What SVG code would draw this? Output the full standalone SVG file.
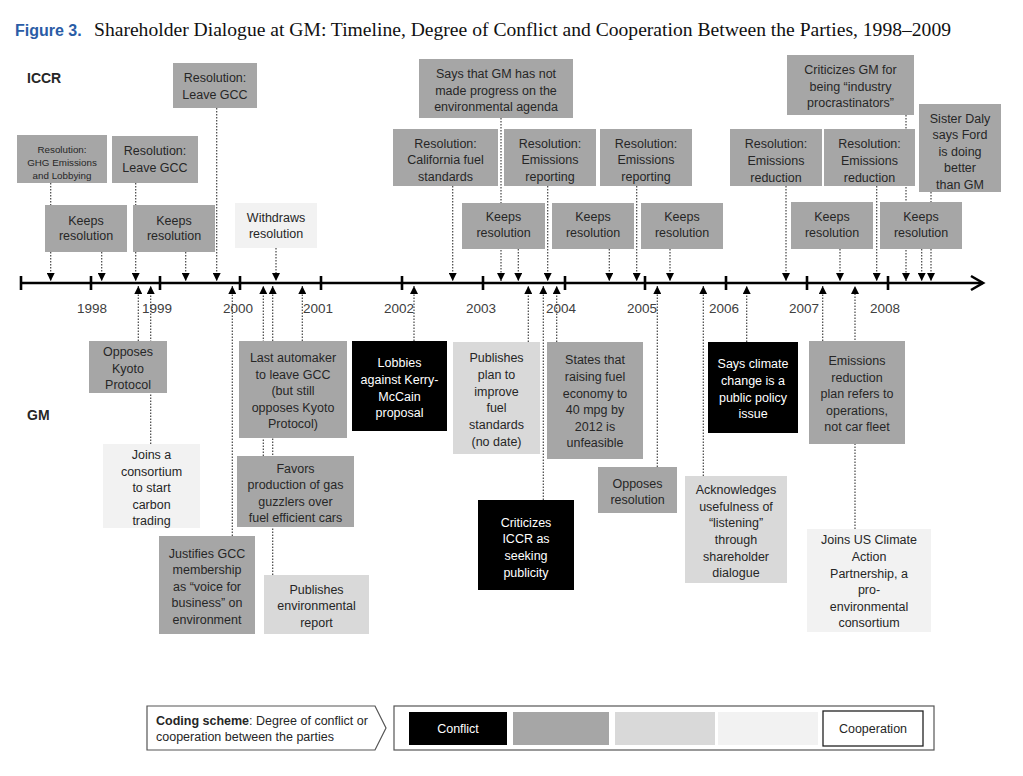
<svg xmlns="http://www.w3.org/2000/svg" width="1023" height="776" viewBox="0 0 1023 776">
<style>
text{font-family:"Liberation Sans",Arial,sans-serif}
text.serif{font-family:"Liberation Serif","Times New Roman",serif}
.t{font-size:12.5px;fill:#262626;text-anchor:middle}
.s{font-size:9.8px;fill:#262626;text-anchor:middle}
.w{font-size:12.5px;fill:#ffffff;text-anchor:middle}
.m{fill:#a6a6a6}
.l{fill:#d9d9d9}
.v{fill:#f2f2f2}
.k{fill:#000000}
.yr{font-size:13.5px;fill:#404040;text-anchor:middle}
.lab{font-size:14px;font-weight:bold;fill:#262626}
.c line{stroke:#444;stroke-width:1.2;stroke-dasharray:1.6 1.4;marker-end:url(#ah)}
</style>
<defs>
<marker id="ah" markerUnits="userSpaceOnUse" markerWidth="8" markerHeight="8" viewBox="0 0 10 10" refX="10" refY="5" orient="auto">
<path d="M0,0 L10,5 L0,10 z" fill="#000" stroke="none"/>
</marker>
</defs>
<rect width="1023" height="776" fill="#fff"/>
<g id="title">
<text x="15" y="36" font-size="16px" font-weight="bold" fill="#2a5ca6">Figure 3.</text>
<text class="serif" x="94" y="36" font-size="18px" fill="#111" textLength="857" lengthAdjust="spacingAndGlyphs">Shareholder Dialogue at GM: Timeline, Degree of Conflict and Cooperation Between the Parties, 1998–2009</text>
</g>
<text class="lab" x="27" y="83">ICCR</text>
<text class="lab" x="27" y="420">GM</text>
<g id="timeline">
<line x1="21" y1="283" x2="983" y2="283" stroke="#000" stroke-width="2.6"/>
<path d="M971,276 L983,283 L971,290" fill="none" stroke="#000" stroke-width="2.6"/>
<g stroke="#000" stroke-width="2.6">
<line x1="21" y1="276" x2="21" y2="290"/>
<line x1="91" y1="276" x2="91" y2="290"/>
<line x1="160" y1="276" x2="160" y2="290"/>
<line x1="240" y1="276" x2="240" y2="290"/>
<line x1="321" y1="276" x2="321" y2="290"/>
<line x1="402" y1="276" x2="402" y2="290"/>
<line x1="483" y1="276" x2="483" y2="290"/>
<line x1="565" y1="276" x2="565" y2="290"/>
<line x1="645" y1="276" x2="645" y2="290"/>
<line x1="726" y1="276" x2="726" y2="290"/>
<line x1="807" y1="276" x2="807" y2="290"/>
<line x1="888" y1="276" x2="888" y2="290"/>
</g>
<text class="yr" x="92" y="313">1998</text>
<text class="yr" x="157" y="313">1999</text>
<text class="yr" x="238" y="313">2000</text>
<text class="yr" x="318" y="313">2001</text>
<text class="yr" x="399" y="313">2002</text>
<text class="yr" x="481" y="313">2003</text>
<text class="yr" x="561" y="313">2004</text>
<text class="yr" x="642" y="313">2005</text>
<text class="yr" x="724" y="313">2006</text>
<text class="yr" x="804" y="313">2007</text>
<text class="yr" x="885" y="313">2008</text>
</g>
<g id="connectors" class="c">
<line x1="50.7" y1="183" x2="50.7" y2="281"/>
<line x1="101.7" y1="252" x2="101.7" y2="281"/>
<line x1="135.7" y1="183" x2="135.7" y2="281"/>
<line x1="185.7" y1="252" x2="185.7" y2="281"/>
<line x1="216.7" y1="108" x2="216.7" y2="281"/>
<line x1="276" y1="248" x2="276" y2="281"/>
<line x1="452.7" y1="186" x2="452.7" y2="281"/>
<line x1="501" y1="118" x2="501" y2="281"/>
<line x1="518.3" y1="249" x2="518.3" y2="281"/>
<line x1="547.7" y1="186" x2="547.7" y2="281"/>
<line x1="609.3" y1="249" x2="609.3" y2="281"/>
<line x1="636.7" y1="186" x2="636.7" y2="281"/>
<line x1="670" y1="249" x2="670" y2="281"/>
<line x1="786" y1="186" x2="786" y2="281"/>
<line x1="840" y1="249" x2="840" y2="281"/>
<line x1="876.7" y1="186" x2="876.7" y2="281"/>
<line x1="906" y1="115" x2="906" y2="281"/>
<line x1="921.7" y1="249" x2="921.7" y2="281"/>
<line x1="931" y1="192" x2="931" y2="281"/>
<line x1="138.3" y1="341" x2="138.3" y2="286"/>
<line x1="150.7" y1="444" x2="150.7" y2="286"/>
<line x1="232.3" y1="536" x2="232.3" y2="286"/>
<line x1="263.3" y1="456" x2="263.3" y2="286"/>
<line x1="272.7" y1="575" x2="272.7" y2="286"/>
<line x1="302.3" y1="341" x2="302.3" y2="286"/>
<line x1="414" y1="341" x2="414" y2="286"/>
<line x1="528.3" y1="342" x2="528.3" y2="286"/>
<line x1="543.3" y1="500" x2="543.3" y2="286"/>
<line x1="556.7" y1="342" x2="556.7" y2="286"/>
<line x1="657.3" y1="467" x2="657.3" y2="286"/>
<line x1="703.3" y1="476" x2="703.3" y2="286"/>
<line x1="746.7" y1="342" x2="746.7" y2="286"/>
<line x1="822.7" y1="341" x2="822.7" y2="286"/>
<line x1="855" y1="529" x2="855" y2="286"/>
</g>
<g id="n_ghg"><rect class="m" x="17" y="135" width="90" height="48"/><text class="s" x="62" y="152.5">Resolution:</text><text class="s" x="62" y="165.5">GHG Emissions</text><text class="s" x="62" y="178.5">and Lobbying</text></g>
<g id="n_leave1"><rect class="m" x="112" y="136" width="86" height="47"/><text class="t" x="155" y="154.5">Resolution:</text><text class="t" x="155" y="171.5">Leave GCC</text></g>
<g id="n_leave2"><rect class="m" x="173" y="63" width="84" height="45"/><text class="t" x="215" y="81.5">Resolution:</text><text class="t" x="215" y="98.5">Leave GCC</text></g>
<g id="n_keep1"><rect class="m" x="45" y="205" width="82" height="47"/><text class="t" x="86" y="224.5">Keeps</text><text class="t" x="86" y="240">resolution</text></g>
<g id="n_keep2"><rect class="m" x="133" y="205" width="82" height="47"/><text class="t" x="174" y="224.5">Keeps</text><text class="t" x="174" y="240">resolution</text></g>
<g id="n_withdraw"><rect class="v" x="235" y="203" width="82" height="45"/><text class="t" x="276" y="221.5">Withdraws</text><text class="t" x="276" y="237.5">resolution</text></g>
<g id="n_says"><rect class="m" x="419" y="59" width="154" height="59"/><text class="t" x="496" y="77.5">Says that GM has not</text><text class="t" x="496" y="94.5">made progress on the</text><text class="t" x="496" y="110.5">environmental agenda</text></g>
<g id="n_calif"><rect class="m" x="393" y="129" width="105" height="57"/><text class="t" x="445.5" y="147.5">Resolution:</text><text class="t" x="445.5" y="163.5">California fuel</text><text class="t" x="445.5" y="180.5">standards</text></g>
<g id="n_emrep1"><rect class="m" x="504" y="129" width="92" height="57"/><text class="t" x="550" y="147.5">Resolution:</text><text class="t" x="550" y="163.5">Emissions</text><text class="t" x="550" y="180.5">reporting</text></g>
<g id="n_emrep2"><rect class="m" x="600" y="129" width="92" height="57"/><text class="t" x="646" y="147.5">Resolution:</text><text class="t" x="646" y="163.5">Emissions</text><text class="t" x="646" y="180.5">reporting</text></g>
<g id="n_keepa"><rect class="m" x="462" y="203" width="83" height="46"/><text class="t" x="503.5" y="221">Keeps</text><text class="t" x="503.5" y="237">resolution</text></g>
<g id="n_keepb"><rect class="m" x="552" y="203" width="82" height="46"/><text class="t" x="593" y="221">Keeps</text><text class="t" x="593" y="237">resolution</text></g>
<g id="n_keepc"><rect class="m" x="641" y="203" width="82" height="46"/><text class="t" x="682" y="221">Keeps</text><text class="t" x="682" y="237">resolution</text></g>
<g id="n_crit"><rect class="m" x="787" y="55" width="127" height="60"/><text class="t" x="850.5" y="73.5">Criticizes GM for</text><text class="t" x="850.5" y="90.5">being “industry</text><text class="t" x="850.5" y="106.5">procrastinators”</text></g>
<g id="n_emred1"><rect class="m" x="730" y="129" width="92" height="57"/><text class="t" x="776" y="147.5">Resolution:</text><text class="t" x="776" y="164.5">Emissions</text><text class="t" x="776" y="181.5">reduction</text></g>
<g id="n_emred2"><rect class="m" x="824" y="129" width="91" height="57"/><text class="t" x="869.5" y="147.5">Resolution:</text><text class="t" x="869.5" y="164.5">Emissions</text><text class="t" x="869.5" y="181.5">reduction</text></g>
<g id="n_daly"><rect class="m" x="919" y="104" width="82" height="88"/><text class="t" x="960" y="122.5">Sister Daly</text><text class="t" x="960" y="138.5">says Ford</text><text class="t" x="960" y="155.5">is doing</text><text class="t" x="960" y="171.5">better</text><text class="t" x="960" y="188.5">than GM</text></g>
<g id="n_keepd"><rect class="m" x="791" y="202" width="82" height="47"/><text class="t" x="832" y="221">Keeps</text><text class="t" x="832" y="237">resolution</text></g>
<g id="n_keepe"><rect class="m" x="880" y="202" width="82" height="47"/><text class="t" x="921" y="221">Keeps</text><text class="t" x="921" y="237">resolution</text></g>
<g id="n_kyoto"><rect class="m" x="89" y="341" width="78" height="52"/><text class="t" x="128" y="355.5">Opposes</text><text class="t" x="128" y="372.5">Kyoto</text><text class="t" x="128" y="388.5">Protocol</text></g>
<g id="n_joins"><rect class="v" x="103" y="444" width="97" height="84"/><text class="t" x="151.5" y="458.5">Joins a</text><text class="t" x="151.5" y="475.5">consortium</text><text class="t" x="151.5" y="491.5">to start</text><text class="t" x="151.5" y="508.5">carbon</text><text class="t" x="151.5" y="524.5">trading</text></g>
<g id="n_justifies"><rect class="m" x="159" y="536" width="96" height="98"/><text class="t" x="207" y="557.5">Justifies GCC</text><text class="t" x="207" y="573.5">membership</text><text class="t" x="207" y="590.5">as “voice for</text><text class="t" x="207" y="606.5">business” on</text><text class="t" x="207" y="623.5">environment</text></g>
<g id="n_last"><rect class="m" x="239" y="341" width="108" height="97"/><text class="t" x="293" y="361.5">Last automaker</text><text class="t" x="293" y="378.5">to leave GCC</text><text class="t" x="293" y="394.5">(but still</text><text class="t" x="293" y="411.5">opposes Kyoto</text><text class="t" x="293" y="427.5">Protocol)</text></g>
<g id="n_favors"><rect class="m" x="237" y="456" width="117" height="71"/><text class="t" x="295.5" y="472.5">Favors</text><text class="t" x="295.5" y="488.5">production of gas</text><text class="t" x="295.5" y="505.5">guzzlers over</text><text class="t" x="295.5" y="521.5">fuel efficient cars</text></g>
<g id="n_pubenv"><rect class="l" x="264" y="575" width="105" height="59"/><text class="t" x="316.5" y="593.5">Publishes</text><text class="t" x="316.5" y="609.5">environmental</text><text class="t" x="316.5" y="626.5">report</text></g>
<g id="n_lobbies"><rect class="k" x="352" y="341" width="95" height="90"/><text class="w" x="399.5" y="366.5">Lobbies</text><text class="w" x="399.5" y="383.5">against Kerry-</text><text class="w" x="399.5" y="400.5">McCain</text><text class="w" x="399.5" y="416.5">proposal</text></g>
<g id="n_pubplan"><rect class="l" x="453" y="342" width="87" height="112"/><text class="t" x="496.5" y="361.5">Publishes</text><text class="t" x="496.5" y="378.5">plan to</text><text class="t" x="496.5" y="395.5">improve</text><text class="t" x="496.5" y="411.5">fuel</text><text class="t" x="496.5" y="428.5">standards</text><text class="t" x="496.5" y="445.5">(no date)</text></g>
<g id="n_states"><rect class="m" x="547" y="342" width="96" height="117"/><text class="t" x="595" y="363.5">States that</text><text class="t" x="595" y="380.5">raising fuel</text><text class="t" x="595" y="397.5">economy to</text><text class="t" x="595" y="413.5">40 mpg by</text><text class="t" x="595" y="430.5">2012 is</text><text class="t" x="595" y="446.5">unfeasible</text></g>
<g id="n_opposes"><rect class="m" x="598" y="467" width="79" height="46"/><text class="t" x="637.5" y="487.5">Opposes</text><text class="t" x="637.5" y="503.5">resolution</text></g>
<g id="n_critiz"><rect class="k" x="478" y="500" width="96" height="90"/><text class="w" x="526" y="526.5">Criticizes</text><text class="w" x="526" y="542.5">ICCR as</text><text class="w" x="526" y="559.5">seeking</text><text class="w" x="526" y="576.5">publicity</text></g>
<g id="n_sayscl"><rect class="k" x="708" y="342" width="90" height="91"/><text class="w" x="753" y="367.5">Says climate</text><text class="w" x="753" y="384.5">change is a</text><text class="w" x="753" y="401.5">public policy</text><text class="w" x="753" y="417.5">issue</text></g>
<g id="n_emplan"><rect class="m" x="809" y="341" width="96" height="103"/><text class="t" x="857" y="364.5">Emissions</text><text class="t" x="857" y="381.5">reduction</text><text class="t" x="857" y="397.5">plan refers  to</text><text class="t" x="857" y="414.5">operations,</text><text class="t" x="857" y="430.5">not car fleet</text></g>
<g id="n_ack"><rect class="l" x="685" y="476" width="102" height="107"/><text class="t" x="736" y="493.5">Acknowledges</text><text class="t" x="736" y="510.5">usefulness of</text><text class="t" x="736" y="526.5">“listening”</text><text class="t" x="736" y="543.5">through</text><text class="t" x="736" y="560.5">shareholder</text><text class="t" x="736" y="576.5">dialogue</text></g>
<g id="n_joinsus"><rect class="v" x="807" y="529" width="124" height="103"/><text class="t" x="869" y="543.5">Joins US Climate</text><text class="t" x="869" y="560.5">Action</text><text class="t" x="869" y="577.5">Partnership, a</text><text class="t" x="869" y="593.5">pro-</text><text class="t" x="869" y="610.5">environmental</text><text class="t" x="869" y="626.5">consortium</text></g>
<g id="legend">
<path d="M147,706 L375,706 L386,728 L375,750 L147,750 Z" fill="#fff" stroke="#555" stroke-width="1.2"/>
<text x="156" y="725" font-size="12.5px" fill="#262626"><tspan font-weight="bold">Coding scheme</tspan>: Degree of conflict or</text>
<text x="156" y="741" font-size="12.5px" fill="#262626">cooperation between the parties</text>
<rect x="394" y="706" width="540" height="44" fill="#fff" stroke="#555" stroke-width="1.2"/>
<rect class="k" x="409" y="712" width="98" height="33"/>
<text class="w" x="458" y="733">Conflict</text>
<rect class="m" x="513" y="712" width="96" height="33"/>
<rect class="l" x="615" y="712" width="100" height="33"/>
<rect class="v" x="718" y="712" width="100" height="33"/>
<rect x="823" y="711" width="100" height="35" fill="#fff" stroke="#222" stroke-width="1.3"/>
<text class="t" x="873" y="733">Cooperation</text>
</g>
</svg>
